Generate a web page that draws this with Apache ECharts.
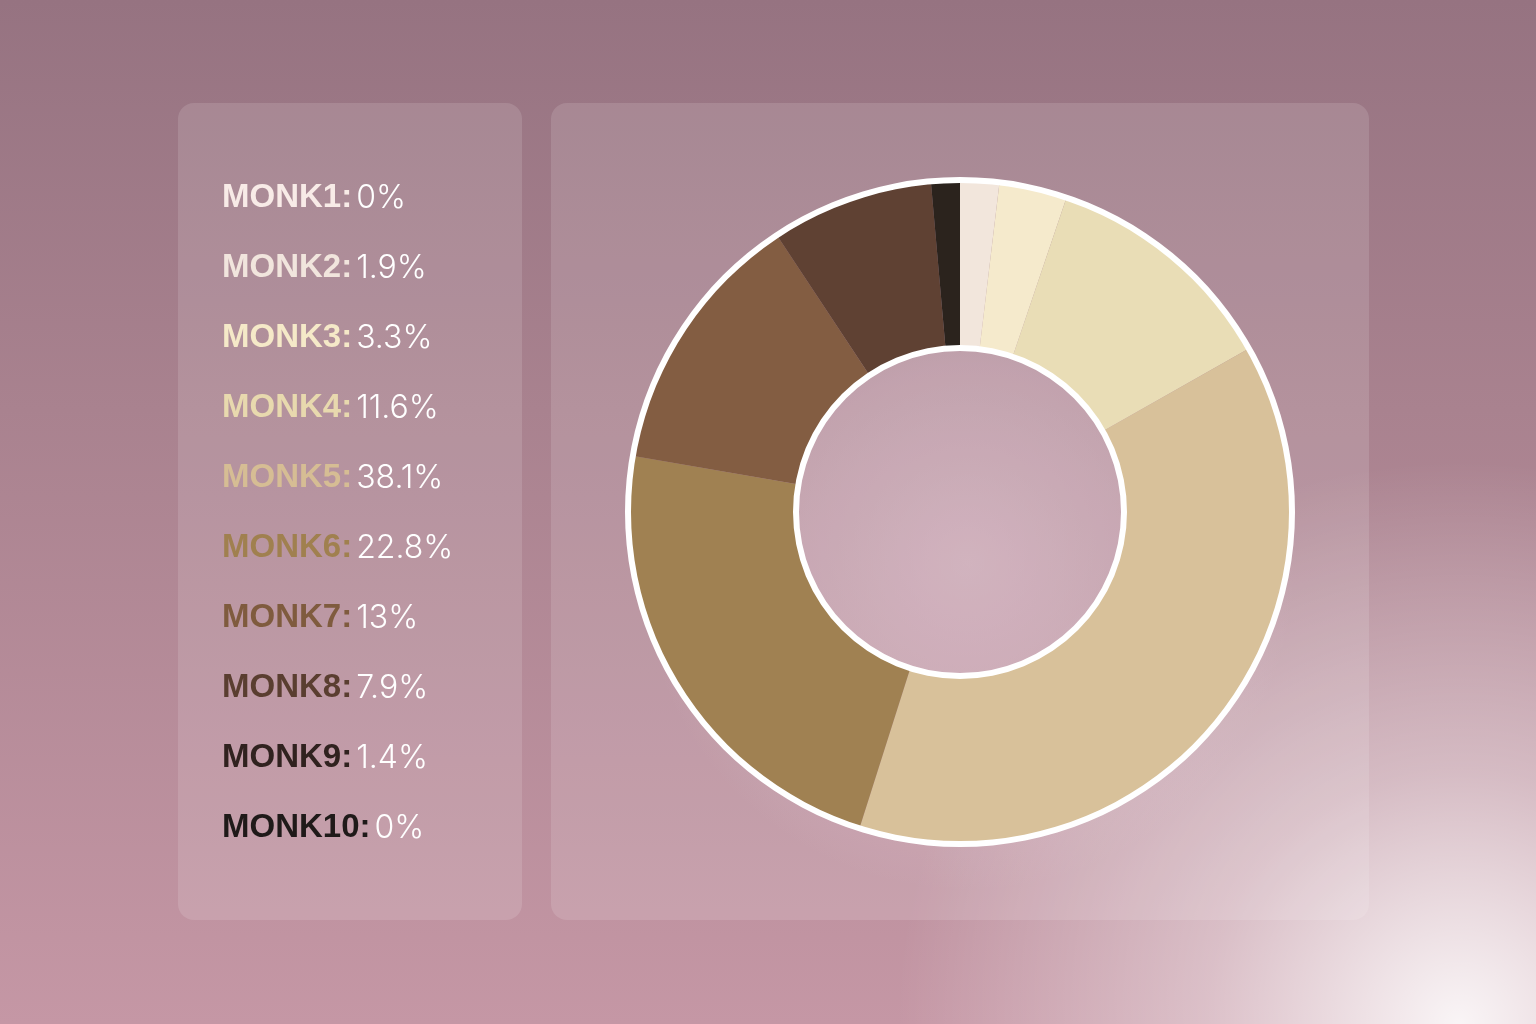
<!DOCTYPE html>
<html>
<head>
<meta charset="utf-8">
<script src="https://cdn.jsdelivr.net/npm/echarts@6/dist/echarts.min.js"></script>
<style>
html,body{margin:0;padding:0;width:1536px;height:1024px;overflow:hidden;}
#chart{width:1536px;height:1024px;}
</style>
</head>
<body>
<div id="chart"></div>
<script>
var categories = ['MONK1','MONK2','MONK3','MONK4','MONK5','MONK6','MONK7','MONK8','MONK9','MONK10'];
var values = [0, 1.9, 3.3, 11.6, 38.1, 22.8, 13, 7.9, 1.4, 0];
var sliceColors = ['#f6e9e4','#f2e6dc','#f5eacc','#e9ddb6','#d8c19a','#a08152','#835d42','#5f4133','#2b231d','#1c1816'];
var labelColors = ['#f8ebe7','#f1e5dd','#f5e9c8','#e8d9ae','#d6bd94','#a0804f','#7f5b3e','#5a3e30','#30221f','#1f1a19'];

var chart = echarts.init(document.getElementById('chart'), null, {renderer:'canvas'});

var rich = {
  v: {fontFamily:'Inter', fontWeight:300, fontSize:32, color:'#ffffff', padding:[0,0,0,4]}
};
labelColors.forEach(function(c, i){
  rich['n'+i] = {fontFamily:'Liberation Sans', fontWeight:'bold', fontSize:33, color:c};
});

var pieData = categories.map(function(n, i){
  return {name:n, value:values[i], itemStyle:{color:sliceColors[i]}};
});

var option = {
  animation:false,
  graphic:[
    {type:'rect', z:-10, silent:true, shape:{x:0,y:0,width:1536,height:1024},
     style:{fill:new echarts.graphic.LinearGradient(0,0,0,1,[
       {offset:0,color:'#967381'},{offset:0.4,color:'#a9828f'},{offset:1,color:'#c597a5'}])}},
    {type:'rect', z:-9, silent:true, shape:{x:0,y:0,width:1536,height:1024},
     style:{fill:new echarts.graphic.RadialGradient(0.63,0.55,0.32,[
       {offset:0,color:'rgba(225,195,208,0.55)'},{offset:0.6,color:'rgba(225,195,208,0.3)'},{offset:1,color:'rgba(225,195,208,0)'}])}},
    {type:'rect', z:-9, silent:true, shape:{x:0,y:0,width:1536,height:1024},
     style:{fill:new echarts.graphic.RadialGradient(0.95,1.0,0.55,[
       {offset:0,color:'rgba(255,255,255,0.9)'},{offset:0.45,color:'rgba(255,255,255,0.4)'},{offset:1,color:'rgba(255,255,255,0)'}])}},
    {type:'rect', z:-8, silent:true, shape:{x:178,y:103,width:344,height:817,r:16},
     style:{fill:'rgba(255,255,255,0.13)'}},
    {type:'rect', z:-8, silent:true, shape:{x:551,y:103,width:818,height:817,r:16},
     style:{fill:'rgba(255,255,255,0.13)'}}
  ],
  legend:{
    data:categories,
    orient:'vertical',
    left:217, top:178,
    padding:0,
    itemWidth:0, itemHeight:40,
    itemGap:30,
    icon:'rect',
    selectedMode:false,
    textStyle:{rich:rich},
    formatter:function(name){
      var i = categories.indexOf(name);
      return '{n'+i+'|'+name+':}{v|'+values[i]+'%}';
    }
  },
  series:[
    {
      type:'pie', name:'Monk', center:[960,512], radius:[165,331],
      startAngle:90, clockwise:true,
      label:{show:false}, labelLine:{show:false},
      emphasis:{disabled:true}, silent:true,
      itemStyle:{borderWidth:0},
      data:pieData
    },
    {
      type:'pie', center:[960,512], radius:[329,335], z:5,
      label:{show:false}, labelLine:{show:false}, silent:true, emphasis:{disabled:true},
      data:[{name:'outerRing', value:1, itemStyle:{color:'#ffffff'}}]
    },
    {
      type:'pie', center:[960,512], radius:[161,167], z:5,
      label:{show:false}, labelLine:{show:false}, silent:true, emphasis:{disabled:true},
      data:[{name:'innerRing', value:1, itemStyle:{color:'#ffffff'}}]
    }
  ]
};
chart.setOption(option);
</script>
</body>
</html>
